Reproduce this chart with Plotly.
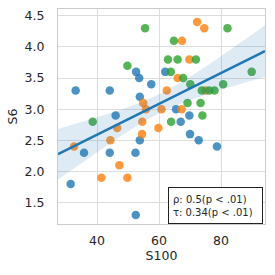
import numpy as np
import plotly.graph_objects as go

# ---- data ----
blue_x = [31.5, 33.1, 35.8, 44.1, 44.1, 46.0, 52.4, 52.5, 52.6, 53.6, 53.8, 53.8, 57.5, 62.0, 65.5, 67.0, 69.8, 70.0, 72.8, 78.7]
blue_y = [1.8, 3.3, 2.3, 3.3, 2.3, 2.9, 2.3, 1.3, 3.6, 3.5, 3.2, 2.5, 3.4, 3.6, 3.0, 2.8, 2.9, 2.6, 2.5, 2.4]

orange_x = [32.6, 41.4, 44.3, 46.5, 47.2, 49.8, 54.6, 54.5, 54.9, 55.8, 59.8, 60.8, 62.5, 66.0, 67.3, 67.4, 69.8, 72.3, 74.6, 75.0]
orange_y = [2.4, 1.9, 2.5, 2.7, 2.1, 1.9, 2.8, 2.6, 3.1, 3.0, 2.7, 3.0, 3.3, 3.5, 3.0, 4.1, 3.8, 4.4, 4.3, 3.3]

green_x = [38.6, 49.8, 55.5, 62.9, 63.8, 63.9, 64.8, 66.0, 67.8, 69.2, 70.1, 71.9, 73.4, 73.8, 74.0, 76.2, 77.9, 80.7, 82.1, 89.9]
green_y = [2.8, 3.7, 4.3, 3.8, 3.6, 2.8, 4.1, 3.8, 3.5, 3.1, 3.4, 3.8, 3.1, 3.3, 2.9, 3.3, 3.3, 3.4, 4.3, 3.6]

x_range = [27.4, 94.2]
y_range = [1.156, 4.61]
x_ticks = [40, 60, 80]
y_ticks = [1.5, 2.0, 2.5, 3.0, 3.5, 4.0, 4.5]
stats_text = "ρ: 0.5(p < .01)<br>τ: 0.34(p < .01)"

# ---- regression with 95% CI ----
xa = np.array(blue_x + orange_x + green_x, dtype=float)
ya = np.array(blue_y + orange_y + green_y, dtype=float)
slope, intercept = np.polyfit(xa, ya, 1)
n = len(xa)
resid = ya - (slope * xa + intercept)
s = np.sqrt(np.sum(resid ** 2) / (n - 2))
xm = xa.mean()
sxx = np.sum((xa - xm) ** 2)
xs = np.linspace(x_range[0], x_range[1], 120)
yfit = slope * xs + intercept
se = s * np.sqrt(1.0 / n + (xs - xm) ** 2 / sxx)
tcrit = 2.0017
lo = yfit - tcrit * se
hi = yfit + tcrit * se

fig = go.Figure()
for xv, yv, col in [(blue_x, blue_y, "#1f77b4"), (orange_x, orange_y, "#ff7f0e"), (green_x, green_y, "#2ca02c")]:
    fig.add_trace(go.Scatter(x=xv, y=yv, mode="markers",
                             marker=dict(color=col, size=8.5, opacity=0.8, line=dict(width=0)),
                             showlegend=False, hoverinfo="skip"))

fig.add_trace(go.Scatter(x=xs, y=lo, mode="lines", line=dict(width=0), showlegend=False, hoverinfo="skip"))
fig.add_trace(go.Scatter(x=xs, y=hi, mode="lines", line=dict(width=0), fill="tonexty",
                         fillcolor="rgba(31,119,180,0.15)", showlegend=False, hoverinfo="skip"))
fig.add_trace(go.Scatter(x=xs, y=yfit, mode="lines", line=dict(color="#1f77b4", width=2.6),
                         showlegend=False, hoverinfo="skip"))

font_main = dict(family="DejaVu Sans", size=12.5, color="#262626")
axis_common = dict(showgrid=True, gridcolor="#dddddd", gridwidth=1, zeroline=False,
                   showline=True, linecolor="#cccccc", linewidth=1, mirror=True,
                   tickfont=font_main, ticks="")

fig.update_xaxes(range=x_range, tickmode="array", tickvals=x_ticks, tickformat="d",
                 ticklabelstandoff=5,
                 title=dict(text="S100", font=font_main, standoff=0),
                 **axis_common)
fig.update_yaxes(range=y_range, tickmode="array", tickvals=y_ticks, tickformat=".1f",
                 ticklabelstandoff=10,
                 title=dict(text="S6", font=font_main, standoff=4),
                 **axis_common)

fig.add_annotation(xref="paper", yref="paper", x=0.992, y=0.0, xanchor="right", yanchor="bottom",
                   text=stats_text, showarrow=False, align="left",
                   width=85, height=27,
                   font=dict(family="DejaVu Sans", size=10, color="#262626"),
                   bordercolor="#222222", borderwidth=1, borderpad=4, bgcolor="white")

fig.update_layout(width=275, height=275, margin=dict(l=58, r=10, t=9, b=51, autoexpand=False),
                  plot_bgcolor="white", paper_bgcolor="white", showlegend=False)

fig.write_html("out.html", config={"displayModeBar": False},
               post_script="document.body.style.margin='0px';")
